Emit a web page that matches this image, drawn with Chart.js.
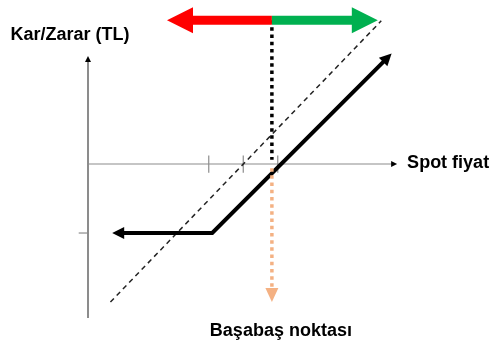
<!DOCTYPE html>
<html>
<head>
<meta charset="utf-8">
<script src="https://cdn.jsdelivr.net/npm/chart.js@4"></script>
<style>
  html, body { margin: 0; padding: 0; background: #fff; }
  #wrap { width: 495px; height: 347px; }
</style>
</head>
<body>
<div id="wrap"><canvas id="chart" width="495" height="347"></canvas></div>
<script>
// long call payoff: spot price on x, profit / loss (TL) on y, arbitrary units
const payoffX = [0.7, 3.6, 8.8];
const payoffY = [-2, -2, 3.2];
const spotLineX = [0.65, 8.5];      // dashed: holding the underlying
const spotLineY = [-4.0, 4.15];
const xTicks = [3.5, 4.5, 5.5];
const yTicks = [-2];
const breakeven = 5.33;
const arrowRowY = 4.17;
const lossArrowX = [breakeven, 2.29];
const gainArrowX = [breakeven, 8.4];
const guideTopY = [arrowRowY, 0.12];
const guideBottomY = [-0.12, -4.0];
const xAxisX = [0, 8.96];
const yAxisY = [-4.46, 3.13];
const yTitle = 'Kar/Zarar (TL)';
const xTitle = 'Spot fiyat';
const breakevenLabel = 'Başabaş noktası';

const pts = (xs, ys) => xs.map((x, i) => ({ x: x, y: ys[i] }));
const AXIS = '#8c8c8c';

function line(data, color, width, extra) {
    return Object.assign({
        data: data,
        showLine: true,
        borderColor: color,
        backgroundColor: color,
        borderWidth: width,
        pointRadius: 0,
        borderCapStyle: 'butt',
        tension: 0
    }, extra || {});
}

const datasets = [
    line(pts(gainArrowX, [arrowRowY, arrowRowY]), '#00b050', 9, { head: { len: 26, wid: 13 }, order: 1 }),
    line(pts(lossArrowX, [arrowRowY, arrowRowY]), '#ff0000', 9, { head: { len: 26, wid: 13 }, order: 1 }),
    line(pts([breakeven, breakeven], guideTopY), '#000', 3.5, { borderDash: [3.5, 3.7], order: 2 }),
    line(pts([breakeven, breakeven], guideBottomY), '#f4b183', 3.5, { borderDash: [3.5, 3.7], head: { len: 14, wid: 6.5 }, order: 3 }),
    line(pts(payoffX, payoffY), '#000', 4, { head: { len: 12, wid: 6, both: true }, order: 4 }),
    line(pts(spotLineX, spotLineY), '#222', 1.5, { borderDash: [5, 4], order: 5 }),
    line(pts(xAxisX, [0, 0]), AXIS, 1.2, { head: { len: 6, wid: 3, color: '#000' }, order: 7 }),
    line(pts([0, 0], yAxisY), AXIS, 2, { head: { len: 6, wid: 3, color: '#000' }, order: 7 })
];
xTicks.forEach(t => datasets.push(line(pts([t, t], [-0.25, 0.25]), AXIS, 1.2, { order: 6 })));
yTicks.forEach(t => datasets.push(line(pts([-0.27, 0], [t, t]), AXIS, 1.2, { order: 6 })));

// arrow heads: cut the line before the head, then fill the triangle
function heads(meta, ds) {
    const p = meta.data;
    const out = [];
    const mk = (a, b) => {
        const dx = a.x - b.x, dy = a.y - b.y, d = Math.hypot(dx, dy);
        return { tx: a.x, ty: a.y, ux: dx / d, uy: dy / d };
    };
    out.push(mk(p[p.length - 1], p[p.length - 2]));
    if (ds.head.both) out.push(mk(p[0], p[1]));
    return out;
}

const arrowPlugin = {
    id: 'arrows',
    beforeDatasetDraw(chart, args) {
        const ds = chart.data.datasets[args.index];
        if (!ds.head) return;
        const ctx = chart.ctx;
        ctx.save();
        ctx.beginPath();
        ctx.rect(0, 0, chart.width, chart.height);
        heads(args.meta, ds).forEach(h => {
            const L = ds.head.len - 1, W = ds.head.wid + 10;
            const bx = h.tx - h.ux * L, by = h.ty - h.uy * L;
            const nx = -h.uy, ny = h.ux;
            ctx.moveTo(bx + nx * W, by + ny * W);
            ctx.lineTo(bx + nx * W + h.ux * (L + 10), by + ny * W + h.uy * (L + 10));
            ctx.lineTo(bx - nx * W + h.ux * (L + 10), by - ny * W + h.uy * (L + 10));
            ctx.lineTo(bx - nx * W, by - ny * W);
            ctx.closePath();
        });
        ctx.clip('evenodd');
    },
    afterDatasetDraw(chart, args) {
        const ds = chart.data.datasets[args.index];
        if (!ds.head) return;
        const ctx = chart.ctx;
        ctx.restore();
        ctx.save();
        ctx.fillStyle = ds.head.color || ds.borderColor;
        heads(args.meta, ds).forEach(h => {
            const L = ds.head.len, W = ds.head.wid;
            const bx = h.tx - h.ux * L, by = h.ty - h.uy * L;
            const nx = -h.uy, ny = h.ux;
            ctx.beginPath();
            ctx.moveTo(h.tx, h.ty);
            ctx.lineTo(bx + nx * W, by + ny * W);
            ctx.lineTo(bx - nx * W, by - ny * W);
            ctx.closePath();
            ctx.fill();
        });
        ctx.restore();
    }
};

const labelPlugin = {
    id: 'labels',
    afterDraw(chart) {
        const ctx = chart.ctx;
        const x = chart.scales.x, y = chart.scales.y;
        ctx.save();
        ctx.fillStyle = '#000';
        ctx.font = 'bold 18px "Liberation Sans", Arial, sans-serif';
        ctx.textBaseline = 'middle';
        ctx.textAlign = 'center';
        ctx.fillText(yTitle, x.getPixelForValue(0) - 18, y.getPixelForValue(yAxisY[1]) - 21);
        ctx.fillText(breakevenLabel, x.getPixelForValue(breakeven) + 9, y.getPixelForValue(guideBottomY[1]) + 29);
        ctx.textAlign = 'left';
        ctx.fillText(xTitle, x.getPixelForValue(xAxisX[1]) + 10, y.getPixelForValue(0) - 1);
        ctx.restore();
    }
};

new Chart(document.getElementById('chart').getContext('2d'), {
    type: 'scatter',
    data: { datasets: datasets },
    options: {
        responsive: false,
        animation: false,
        events: [],
        layout: { padding: 0 },
        scales: {
            x: { type: 'linear', display: false, min: -2.551, max: 11.797 },
            y: { type: 'linear', display: false, min: -5.304, max: 4.754 }
        },
        plugins: { legend: { display: false }, tooltip: { enabled: false } }
    },
    plugins: [arrowPlugin, labelPlugin]
});
</script>
</body>
</html>
